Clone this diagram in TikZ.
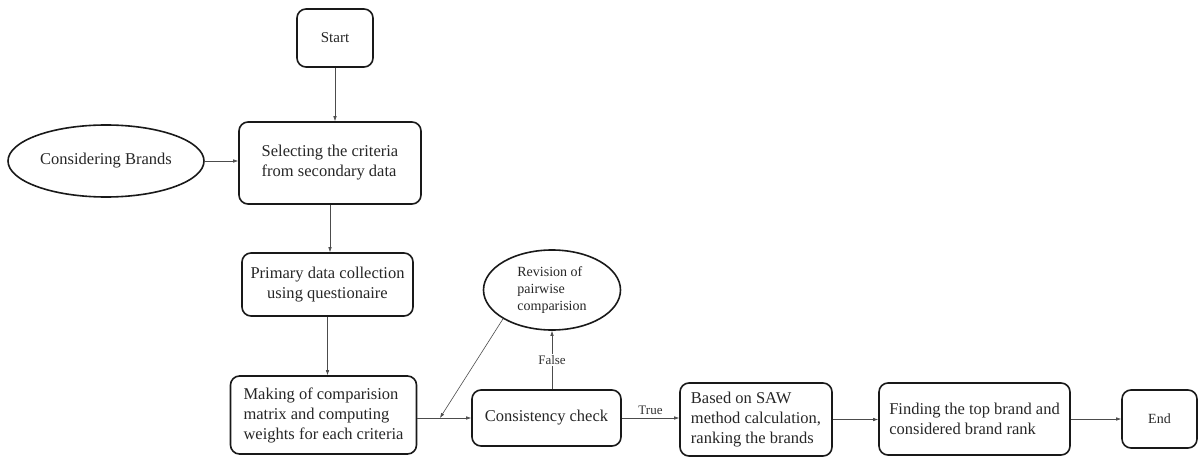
\documentclass[tikz,border=0pt]{standalone}
\usepackage{fontspec}
\setmainfont{Liberation Serif}
\newfontfamily\tnr{Liberation Serif}
\usetikzlibrary{shapes, calc, positioning, arrows.meta}

\begin{document}
\begin{tikzpicture}[x=1pt, y=-1pt,
	box/.style={draw=black!90, line width=1.6pt, rounded corners=9pt,
		inner sep=2pt, text=black!85, font=\tnr\fontsize{16.5}{20}\selectfont},
	oval/.style={ellipse, draw=black!90, line width=1.6pt, inner sep=0pt,
		text=black!85},
	arr/.style={-{Latex[length=5pt,width=3.5pt]}, line width=0.6pt, black!70},
	lbl/.style={font=\tnr\fontsize{13}{15}\selectfont, text=black!80}]

\useasboundingbox (0,0) rectangle (1198,457);

\node[box, minimum width=76, minimum height=58,
	font=\tnr\fontsize{15}{17}\selectfont] (start) at (335,38) {Start};
\node[box, minimum width=182, minimum height=82, align=left] (select)
	at (330,163) {Selecting the criteria\\from secondary data};
\node[oval, minimum width=196, minimum height=72,
	font=\tnr\fontsize{16.5}{20}\selectfont] (brands) at (106,161) {Considering Brands};
\node[box, minimum width=171, minimum height=63, align=center] (primary)
	at (327.5,284.5) {Primary data collection\\using questionaire};
\node[box, minimum width=186, minimum height=78, align=left] (making)
	at (323.5,415) {Making of comparision\\matrix and computing\\weights for each criteria};
\node[box, minimum width=149, minimum height=56] (consist)
	at (546.5,418) {Consistency check};
\node[oval, minimum width=137, minimum height=80, align=left,
	font=\tnr\fontsize{14}{17}\selectfont] (revise) at (552,290) {Revision of\\pairwise\\comparision};
\node[box, minimum width=152, minimum height=73, align=left] (saw)
	at (756,419.5) {Based on SAW\\method calculation,\\ranking the brands};
\node[box, minimum width=191, minimum height=72, align=left] (finding)
	at (974.5,419) {Finding the top brand and\\considered brand rank};
\node[box, minimum width=75, minimum height=58,
	font=\tnr\fontsize{14}{16}\selectfont] (end) at (1159.5,419) {End};

\coordinate (join) at ($(making.east |- consist.west)!0.42!(consist.west)$);

\draw[arr] (start) -- (start |- select.north);
\draw[arr] (brands) -- (brands -| select.west);
\draw[arr] (select.south) -- (select.south |- primary.north);
\draw[arr] (primary.south) -- (primary.south |- making.north);
\draw[arr] (making.east |- consist.west) -- (consist.west);
\draw[arr] (revise.south west) -- (join);
\draw[arr] (revise.south |- consist.north) -- node[lbl, fill=white, inner sep=1pt] {False} (revise.south);
\draw[arr] (consist.east) -- node[lbl, above] {True} (consist.east -| saw.west);
\draw[arr] (saw.east) -- (saw.east -| finding.west);
\draw[arr] (finding.east) -- (finding.east -| end.west);
\end{tikzpicture}
\end{document}
